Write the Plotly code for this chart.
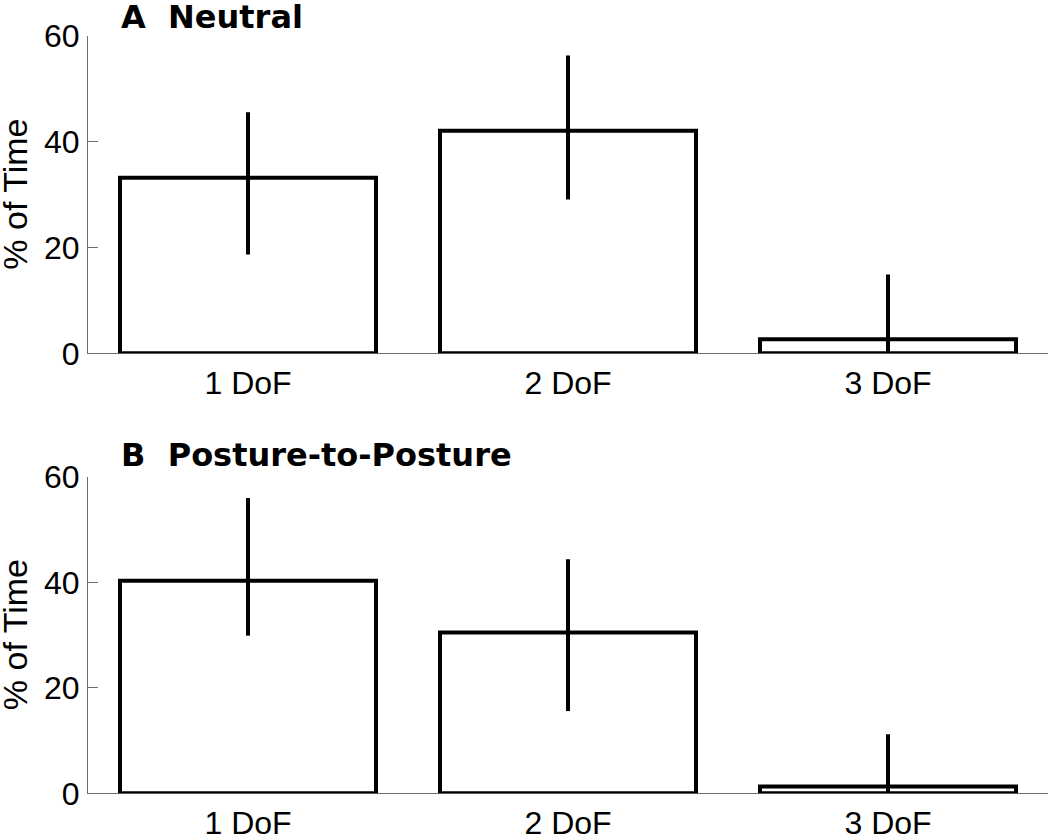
import plotly.graph_objects as go

categories = ["1 DoF", "2 DoF", "3 DoF"]
x_pos = [1, 2, 3]

neutral_vals = [33.2, 42.1, 2.65]
neutral_upper = [45.6, 56.3, 14.9]
neutral_lower = [18.7, 29.1, 0.0]

p2p_vals = [40.3, 30.5, 1.3]
p2p_upper = [56.0, 44.4, 11.2]
p2p_lower = [29.9, 15.6, 0.0]

y_ticks = [0, 20, 40, 60]
panel_titles = ["A  Neutral", "B  Posture-to-Posture"]
y_title = "% of Time"

W, H = 1050, 835

TICK_FONT = dict(family="Liberation Sans, Arial, sans-serif", size=32, color="black")
YTITLE_FONT = dict(family="Liberation Sans, Arial, sans-serif", size=34, color="black")
TITLE_FONT = dict(family="DejaVu Sans, sans-serif", size=32, color="black")
AXIS_COLOR = "#6e6e6e"

fig = go.Figure()


def add_panel(vals, upper, lower, xa, ya):
    fig.add_trace(go.Bar(
        x=x_pos, y=vals, width=0.8,
        marker=dict(color="white", line=dict(color="black", width=4)),
        error_y=dict(
            type="data", symmetric=False,
            array=[u - v for u, v in zip(upper, vals)],
            arrayminus=[v - l for v, l in zip(vals, lower)],
            color="black", thickness=4, width=0,
        ),
        xaxis=xa, yaxis=ya, showlegend=False, hoverinfo="skip",
    ))


add_panel(neutral_vals, neutral_upper, neutral_lower, "x", "y")
add_panel(p2p_vals, p2p_upper, p2p_lower, "x2", "y2")


def px_x(p):
    return p / W


def px_y(p):
    return 1 - p / H


xdom = [px_x(88), px_x(1048)]
ydom_top = [px_y(353.3), px_y(36)]
ydom_bot = [px_y(793.3), px_y(477)]

xaxis_common = dict(
    range=[0.5, 3.5], tickvals=x_pos, ticktext=categories, ticks="",
    showline=True, linecolor=AXIS_COLOR, linewidth=1, showgrid=False,
    zeroline=False, tickfont=TICK_FONT, layer="below traces",
    ticklabelstandoff=1, fixedrange=True, automargin=False,
)
yaxis_common = dict(
    range=[0, 60], tickvals=y_ticks, ticks="inside", ticklen=10,
    tickcolor=AXIS_COLOR, tickwidth=1,
    showline=True, linecolor=AXIS_COLOR, linewidth=1, showgrid=False,
    zeroline=False, tickfont=TICK_FONT, layer="below traces",
    ticklabelstandoff=1, fixedrange=True, automargin=False,
)

fig.update_layout(
    width=W, height=H, autosize=False,
    margin=dict(l=0, r=0, t=0, b=0, autoexpand=False),
    paper_bgcolor="white", plot_bgcolor="white",
    bargap=0.2,
    xaxis=dict(domain=xdom, anchor="y", **xaxis_common),
    yaxis=dict(domain=ydom_top, anchor="x", **yaxis_common),
    xaxis2=dict(domain=xdom, anchor="y2", **xaxis_common),
    yaxis2=dict(domain=ydom_bot, anchor="x2", **yaxis_common),
)

for title, ty, dom in [(panel_titles[0], 17, ydom_top), (panel_titles[1], 455, ydom_bot)]:
    fig.add_annotation(text="<b>" + title + "</b>", xref="paper", yref="paper",
                       x=px_x(119), y=px_y(ty), xanchor="left", yanchor="middle",
                       showarrow=False, font=TITLE_FONT)
    fig.add_annotation(text=y_title, xref="paper", yref="paper", textangle=-90,
                       x=px_x(15), y=(dom[0] + dom[1]) / 2, xanchor="center", yanchor="middle",
                       showarrow=False, font=YTITLE_FONT)

fig.write_html("out.html", config={"displayModeBar": False},
               post_script="document.body.style.margin='0px';")
